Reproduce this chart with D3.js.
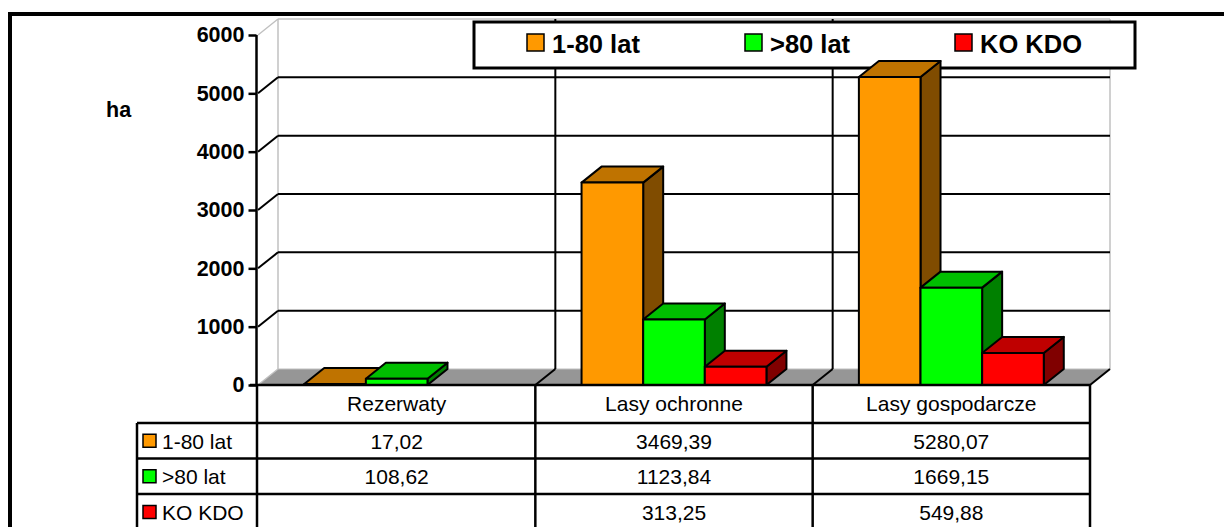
<!DOCTYPE html>
<html><head><meta charset="utf-8">
<script src="https://cdn.jsdelivr.net/npm/d3@7"></script>
<style>
html,body{margin:0;padding:0;background:#fff;}
svg{display:block;}
text{font-family:"Liberation Sans",Arial,sans-serif;fill:#000;}
</style></head>
<body>
<svg id="c" width="1224" height="527"></svg>
<script>
const categories = ["Rezerwaty", "Lasy ochronne", "Lasy gospodarcze"];
const seriesNames = ["1-80 lat", ">80 lat", "KO KDO"];
const series1 = [17.02, 3469.39, 5280.07];
const series2 = [108.62, 1123.84, 1669.15];
const series3 = [null, 313.25, 549.88];
const tableLabels1 = ["17,02", "3469,39", "5280,07"];
const tableLabels2 = ["108,62", "1123,84", "1669,15"];
const tableLabels3 = ["", "313,25", "549,88"];
const yTicks = [0, 1000, 2000, 3000, 4000, 5000, 6000];
const yUnit = "ha";

const colors = {
  front: ["#FF9900", "#00FF00", "#FF0000"],
  top:   ["#BF7300", "#00BF00", "#BF0000"],
  side:  ["#804C00", "#008000", "#800000"]
};
const allSeries = [series1, series2, series3];
const allLabels = [tableLabels1, tableLabels2, tableLabels3];

const svg = d3.select("#c");
const DX = 20, DY = -16;
const left = 258, right = 1090;
const y = d3.scaleLinear().domain([0, 6000]).range([385, 35]);
const x0 = d3.scaleBand().domain(categories).range([left, right]).padding(0);
const x1 = d3.scaleBand().domain(seriesNames).range([0, x0.bandwidth()]).paddingInner(0).paddingOuter(0.75);

// outer frame
svg.append("rect").attr("x", 10).attr("y", 14).attr("width", 1400).attr("height", 700)
  .attr("fill", "none").attr("stroke", "#000").attr("stroke-width", 4);

// floor
const y0 = y(0);
svg.append("polygon")
  .attr("points", [[left, y0], [left + DX, y0 + DY], [right + DX, y0 + DY], [right, y0]].map(p => p.join(",")).join(" "))
  .attr("fill", "#969696");

// wall edges (light gray)
const wallGray = "#c0c0c0";
const ytop = y(6000);
svg.append("line").attr("x1", left + DX).attr("x2", left + DX).attr("y1", ytop + DY).attr("y2", y0 + DY).attr("stroke", wallGray).attr("stroke-width", 1.5);
svg.append("line").attr("x1", right + DX).attr("x2", right + DX).attr("y1", ytop + DY).attr("y2", y0 + DY).attr("stroke", wallGray).attr("stroke-width", 1.5);
svg.append("line").attr("x1", left + DX).attr("x2", right + DX).attr("y1", ytop + DY).attr("y2", ytop + DY).attr("stroke", wallGray).attr("stroke-width", 1.5);
svg.append("line").attr("x1", left + DX).attr("x2", right + DX).attr("y1", y0 + DY).attr("y2", y0 + DY).attr("stroke", wallGray).attr("stroke-width", 1.2);
svg.append("line").attr("x1", left).attr("x2", left + DX).attr("y1", ytop).attr("y2", ytop + DY).attr("stroke", wallGray).attr("stroke-width", 1.5);
svg.append("line").attr("x1", left).attr("x2", left + DX).attr("y1", y0).attr("y2", y0 + DY).attr("stroke", wallGray).attr("stroke-width", 1.5);

// gridlines on back wall + side diagonals
const gridVals = yTicks.filter(v => v > 0 && v < 6000);
svg.selectAll(".grid").data(gridVals).enter().append("line")
  .attr("x1", left + DX).attr("x2", right + DX)
  .attr("y1", d => y(d) + DY).attr("y2", d => y(d) + DY)
  .attr("stroke", "#000").attr("stroke-width", 2);
svg.selectAll(".diag").data(gridVals).enter().append("line")
  .attr("x1", left).attr("x2", left + DX)
  .attr("y1", d => y(d)).attr("y2", d => y(d) + DY)
  .attr("stroke", "#000").attr("stroke-width", 2);

// category dividers on back wall and floor
const bounds = categories.slice(1).map(c => x0(c));
svg.selectAll(".vdiv").data(bounds).enter().append("line")
  .attr("x1", d => d + DX).attr("x2", d => d + DX)
  .attr("y1", ytop + DY).attr("y2", y0 + DY)
  .attr("stroke", "#000").attr("stroke-width", 2);
svg.selectAll(".fdiv").data(bounds.concat([right])).enter().append("line")
  .attr("x1", d => d).attr("x2", d => d + DX)
  .attr("y1", y0).attr("y2", y0 + DY)
  .attr("stroke", "#000").attr("stroke-width", 2);

// legend
const lg = svg.append("g");
lg.append("rect").attr("x", 474).attr("y", 22).attr("width", 661).attr("height", 46)
  .attr("fill", "#fff").attr("stroke", "#000").attr("stroke-width", 3);
const legX = [527, 745, 955];
seriesNames.forEach((s, i) => {
  lg.append("rect").attr("x", legX[i]).attr("y", 34).attr("width", 17).attr("height", 17)
    .attr("fill", colors.front[i]).attr("stroke", "#000").attr("stroke-width", 1.5);
  lg.append("text").attr("x", legX[i] + 25).attr("y", 52.5)
    .attr("font-size", 25.5).attr("font-weight", "bold").text(s);
});

// bars
categories.forEach((c, ci) => {
  seriesNames.forEach((s, si) => {
    const v = allSeries[si][ci];
    if (v == null) return;
    const bx = x0(c) + x1(s), w = x1.bandwidth();
    const yt = y(v), yb = y(0);
    const g = svg.append("g").attr("stroke", "#000").attr("stroke-width", 2).attr("stroke-linejoin", "round");
    g.append("polygon").attr("fill", colors.side[si])
      .attr("points", [[bx + w, yt], [bx + w + DX, yt + DY], [bx + w + DX, yb + DY], [bx + w, yb]].map(p => p.join(",")).join(" "));
    g.append("polygon").attr("fill", colors.top[si])
      .attr("points", [[bx, yt], [bx + DX, yt + DY], [bx + w + DX, yt + DY], [bx + w, yt]].map(p => p.join(",")).join(" "));
    g.append("rect").attr("fill", colors.front[si])
      .attr("x", bx).attr("y", yt).attr("width", w).attr("height", Math.max(yb - yt, 0.5));
  });
});

// y axis
const axis = d3.axisLeft(y).tickValues(yTicks).tickSize(8).tickPadding(4).tickFormat(d3.format("d"));
const ag = svg.append("g").attr("transform", `translate(${left - 1.5},0)`).call(axis);
ag.select(".domain").attr("stroke", "#000").attr("stroke-width", 2.5).attr("d", `M0,${y(6000)}V${y(0)}`);
ag.selectAll(".tick line").attr("stroke", "#000").attr("stroke-width", 2.5);
ag.selectAll(".tick text").attr("font-size", 21.5).attr("font-weight", "bold")
  .attr("font-family", '"Liberation Sans",Arial,sans-serif').attr("fill", "#000");
// front floor edge
svg.append("line").attr("x1", left - 8).attr("x2", right).attr("y1", y0).attr("y2", y0)
  .attr("stroke", "#000").attr("stroke-width", 2.5);

svg.append("text").attr("x", 106).attr("y", 117).attr("font-size", 21.5).attr("font-weight", "bold").text(yUnit);

// data table
const rowTops = [385, 423, 458.5, 494, 530];
const tableLeft = 137;
const tg = svg.append("g");
[423, 458.5, 494].forEach(yy => {
  tg.append("line").attr("x1", tableLeft).attr("x2", right).attr("y1", yy).attr("y2", yy)
    .attr("stroke", "#000").attr("stroke-width", 2.5);
});
[left - 1].concat(bounds, [right]).forEach(xx => {
  tg.append("line").attr("x1", xx).attr("x2", xx).attr("y1", 385).attr("y2", 530)
    .attr("stroke", "#000").attr("stroke-width", 2.5);
});
tg.append("line").attr("x1", tableLeft).attr("x2", tableLeft).attr("y1", 423).attr("y2", 530)
  .attr("stroke", "#000").attr("stroke-width", 2.5);
categories.forEach(c => {
  tg.append("text").attr("x", x0(c) + x0.bandwidth() / 2).attr("y", 411)
    .attr("text-anchor", "middle").attr("font-size", 21).text(c);
});
seriesNames.forEach((s, si) => {
  const top = rowTops[si + 1], bot = rowTops[si + 2];
  const mid = (top + bot) / 2;
  tg.append("rect").attr("x", 143).attr("y", mid - 6.5).attr("width", 13).attr("height", 13)
    .attr("fill", colors.front[si]).attr("stroke", "#000").attr("stroke-width", 1.5);
  tg.append("text").attr("x", 162).attr("y", mid + 8).attr("font-size", 21).text(s);
  categories.forEach((c, ci) => {
    tg.append("text").attr("x", x0(c) + x0.bandwidth() / 2).attr("y", mid + 8)
      .attr("text-anchor", "middle").attr("font-size", 21).text(allLabels[si][ci]);
  });
});
</script>
</body></html>
